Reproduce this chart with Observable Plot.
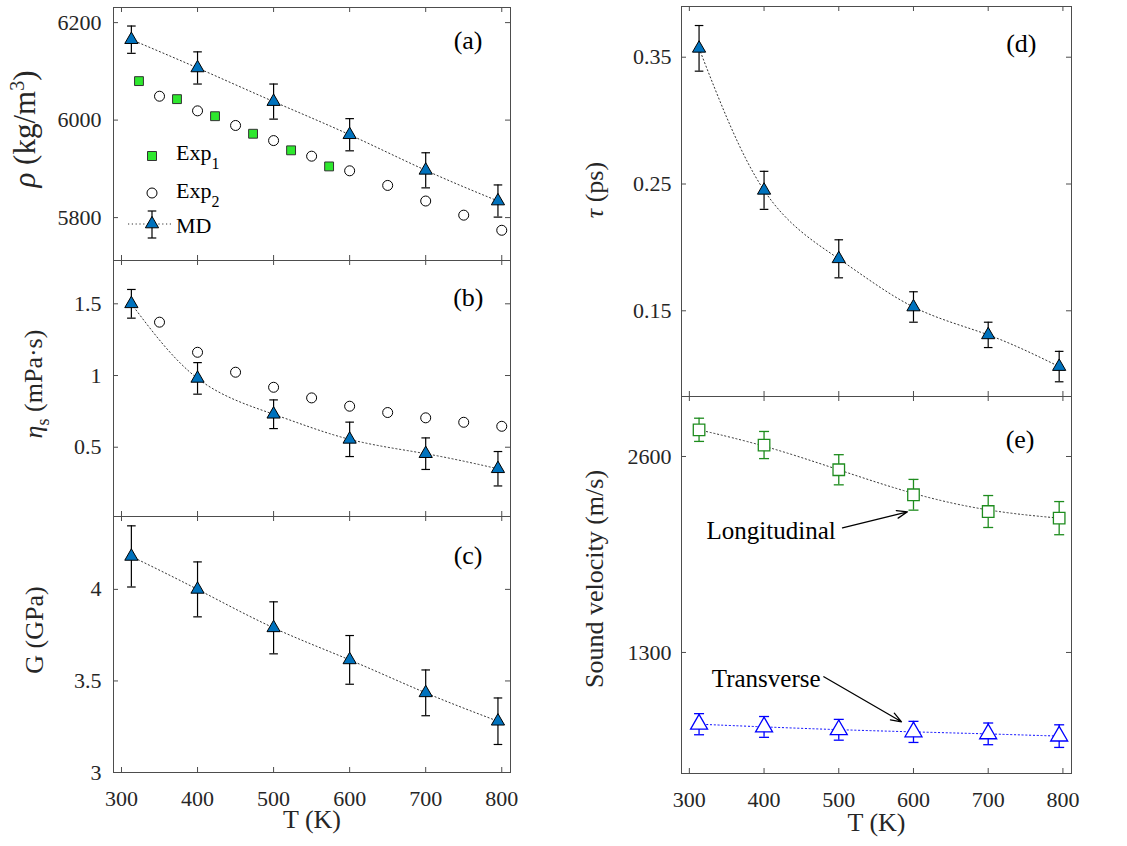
<!DOCTYPE html>
<html><head><meta charset="utf-8">
<script src="https://cdn.jsdelivr.net/npm/d3@7"></script>
<script src="https://cdn.jsdelivr.net/npm/@observablehq/plot@0.6"></script>
<style>
body{margin:0;background:#fff;}
#fig{position:relative;width:1127px;height:846px;font-family:"Liberation Serif","Times New Roman",serif;overflow:hidden;}
#fig svg{position:absolute;overflow:visible;font-family:"Liberation Serif","Times New Roman",serif;}
</style></head><body><div id="fig"></div>
<script>
// ---------------- data ----------------
const xTicks = [300, 400, 500, 600, 700, 800];
const T_md = [313, 400, 500, 600, 700, 795];
// (a) density
const rho_md = [6165, 6107, 6038, 5970, 5897, 5834];
const rho_err = [28, 33, 36, 33, 36, 33];
const T_exp1 = [323, 373, 423, 473, 523, 573];
const rho_exp1 = [6080, 6043, 6008, 5972, 5938, 5905];
const T_exp2 = [350, 400, 450, 500, 550, 600, 650, 700, 750, 800];
const rho_exp2 = [6049, 6019, 5989, 5958, 5926, 5896, 5866, 5834, 5805, 5774];
const rhoTicks = [5800, 6000, 6200];
// (b) shear viscosity
const eta_md = [1.50, 0.98, 0.73, 0.555, 0.455, 0.35];
const eta_err = [0.10, 0.11, 0.10, 0.12, 0.11, 0.12];
const eta_exp2 = [1.372, 1.162, 1.023, 0.918, 0.844, 0.786, 0.742, 0.705, 0.674, 0.646];
const etaTicks = [0.5, 1, 1.5];
// (c) shear modulus
const G_md = [4.18, 4.00, 3.79, 3.615, 3.435, 3.28];
const G_err = [0.167, 0.15, 0.142, 0.133, 0.125, 0.127];
const GTicks = [3, 3.5, 4];
// (d) relaxation time
const tau_md = [0.357, 0.245, 0.191, 0.153, 0.131, 0.106];
const tau_err = [0.018, 0.015, 0.015, 0.012, 0.010, 0.012];
const tauTicks = [0.15, 0.25, 0.35];
// (e) sound velocity
const vL = [2777, 2676, 2512, 2346, 2235, 2191];
const vL_err = [77, 90, 100, 102, 106, 110];
const vT = [824, 806, 787, 773, 760, 745];
const vT_err = [70, 69, 69, 70, 72, 75];
const vTicks = [1300, 2600];
const annotText = ["Longitudinal", "Transverse"];
const annotT = [323, 330];
const annotV = [2107, 1126];
const arrowFromT = [505, 480], arrowFromV = [2127, 1139];
const arrowToT = [592, 584], arrowToV = [2233, 840];

// ---------------- helpers ----------------
const fig = document.getElementById("fig");
const SERIF = '"Liberation Serif", "Times New Roman", serif';
const frameColor = "#4d4d4d";
const labelColor = "#262626";
const xDomain = [289.5, 811.5];
const capSym = {draw(ctx, size) { const r = Math.sqrt(size / Math.PI); ctx.moveTo(-r, 0); ctx.lineTo(r, 0); }};
const rows = (xs, ys, es) => xs.map((x, i) => ({x, y: ys[i], e: es ? es[i] : 0}));

function errMarks(data, color, capR, sw) {
  return [
    Plot.ruleX(data, {x: "x", y1: d => d.y - d.e, y2: d => d.y + d.e, stroke: color, strokeWidth: sw}),
    Plot.dot(data, {x: "x", y: d => d.y - d.e, symbol: capSym, r: capR, stroke: color, fill: "none", strokeWidth: sw}),
    Plot.dot(data, {x: "x", y: d => d.y + d.e, symbol: capSym, r: capR, stroke: color, fill: "none", strokeWidth: sw})
  ];
}
function fitLine(data, color, curve = "natural") {
  return Plot.line(data, {x: "x", y: "y", curve, stroke: color, strokeWidth: 1, strokeDasharray: "1.2 2.6"});
}
function mdMarks(data) {
  return [
    fitLine(data, "#333"),
    ...errMarks(data, "black", 4.3, 1.2),
    Plot.dot(data, {x: "x", y: "y", symbol: "triangle", r: 4.9, fill: "#0072BD", stroke: "black", strokeWidth: 1})
  ];
}

function panel(o) {
  const pw = o.width - o.ml - o.mr, ph = o.height - o.mt - o.mb, T = 5;
  const svg = Plot.plot({
    width: o.width, height: o.height,
    marginTop: o.mt, marginBottom: o.mb, marginLeft: o.ml, marginRight: o.mr,
    style: {fontFamily: SERIF, color: labelColor, background: "none", overflow: "visible"},
    x: {domain: xDomain, axis: null},
    y: {domain: o.yDomain, axis: null},
    marks: [
      ...o.marks,
      Plot.tickX(xTicks, {x: d => d, insetTop: ph - T, stroke: frameColor}),
      Plot.tickX(xTicks, {x: d => d, insetBottom: ph - T, stroke: frameColor}),
      Plot.tickY(o.yTicks, {y: d => d, insetLeft: pw - T, stroke: frameColor}),
      Plot.tickY(o.yTicks, {y: d => d, insetRight: pw - T, stroke: frameColor}),
      Plot.frame({stroke: frameColor}),
      Plot.text(o.yTicks, {y: d => d, text: d => String(d), frameAnchor: "left", dx: o.yPad, textAnchor: "end",
        lineAnchor: "middle", fontSize: 22, fontFamily: SERIF, fill: labelColor}),
      o.xAxis ? Plot.text(xTicks, {x: d => d, text: d => String(d), frameAnchor: "bottom", dy: 26, lineAnchor: "middle",
        fontSize: 22, fontFamily: SERIF, fill: labelColor}) : null,
      Plot.text([o.tag], {frameAnchor: "top-right", dx: o.tagDx, dy: o.tagDy, textAnchor: "end", fontSize: 26, fontFamily: SERIF, fill: "black"}),
      o.xAxis ? Plot.text(["T (K)"], {frameAnchor: "bottom", dy: o.xlabDy, fontSize: 26, fontFamily: SERIF, fill: labelColor}) : null
    ]
  });
  svg.style.left = o.left + "px";
  svg.style.top = o.top + "px";
  fig.appendChild(svg);
  return svg;
}

function ylabel(svg, x, y, parts, fs = 26) {
  const t = d3.select(svg).append("text")
    .attr("transform", `translate(${x},${y}) rotate(-90)`)
    .attr("text-anchor", "middle").attr("font-size", fs).attr("font-family", SERIF).attr("fill", labelColor);
  parts.forEach(p => {
    const s = t.append("tspan").text(p.t);
    if (p.i) s.attr("font-style", "italic");
    if (p.fs) s.attr("font-size", p.fs);
    if (p.dy) s.attr("dy", p.dy);
  });
}

// ---------------- panel (a) ----------------
const svgA = panel({
  left: 0, top: 0, width: 525, height: 265, mt: 7, mb: 5, ml: 113, mr: 15, yPad: -12,
  yDomain: [5712, 6231], yTicks: rhoTicks, tag: "(a)", tagDx: -28, tagDy: 23,
  marks: [
    Plot.dot(rows(T_exp2, rho_exp2), {x: "x", y: "y", r: 5, fill: "white", stroke: "black", strokeWidth: 1}),
    Plot.dot(rows(T_exp1, rho_exp1), {x: "x", y: "y", symbol: "square", r: 5, fill: "#2ee82e", stroke: "#333", strokeWidth: 1}),
    ...mdMarks(rows(T_md, rho_md, rho_err))
  ]
});
ylabel(svgA, 35, 129, [{t: "ρ", i: true}, {t: " (kg/m"}, {t: "3", fs: 20, dy: -11}, {t: ")", dy: 11}], 31);
// legend
{
  const g = d3.select(svgA).append("g").attr("text-anchor", "start");
  g.append("path").attr("transform", "translate(152,156)").attr("d", d3.symbol(d3.symbolSquare, 81)())
    .attr("fill", "#2ee82e").attr("stroke", "#333");
  g.append("circle").attr("cx", 152).attr("cy", 193).attr("r", 5).attr("fill", "white").attr("stroke", "black");
  g.append("line").attr("x1", 128).attr("x2", 172).attr("y1", 224).attr("y2", 224)
    .attr("stroke", "#333").attr("stroke-dasharray", "1.2 2.6");
  g.append("line").attr("x1", 152).attr("x2", 152).attr("y1", 211).attr("y2", 238).attr("stroke", "black").attr("stroke-width", 1.2);
  g.append("line").attr("x1", 147.7).attr("x2", 156.3).attr("y1", 211).attr("y2", 211).attr("stroke", "black").attr("stroke-width", 1.2);
  g.append("line").attr("x1", 147.7).attr("x2", 156.3).attr("y1", 238).attr("y2", 238).attr("stroke", "black").attr("stroke-width", 1.2);
  g.append("path").attr("transform", "translate(152,224)").attr("d", d3.symbol(d3.symbolTriangle, Math.PI * 4.9 * 4.9)())
    .attr("fill", "#0072BD").attr("stroke", "black");
  const lt = [["Exp", "1", 160], ["Exp", "2", 198], ["MD", null, 233]];
  lt.forEach(([a, b, y]) => {
    const t = g.append("text").attr("x", 176).attr("y", y).attr("font-size", 22).attr("font-family", SERIF)
      .attr("fill", "black").attr("text-anchor", "start");
    t.append("tspan").text(a);
    if (b) t.append("tspan").text(b).attr("font-size", 16).attr("dy", 9);
  });
}

// ---------------- panel (b) ----------------
const svgB = panel({
  left: 0, top: 255, width: 525, height: 266, mt: 5, mb: 5, ml: 113, mr: 15, yPad: -12,
  yDomain: [0.017, 1.802], yTicks: etaTicks, tag: "(b)", tagDx: -27, tagDy: 27,
  marks: [
    Plot.dot(rows(T_exp2, eta_exp2), {x: "x", y: "y", r: 5, fill: "white", stroke: "black", strokeWidth: 1}),
    ...mdMarks(rows(T_md, eta_md, eta_err))
  ]
});
ylabel(svgB, 42, 129, [{t: "η", i: true}, {t: "s", fs: 18, dy: 7}, {t: " (mPa·s)", dy: -7}]);

// ---------------- panel (c) ----------------
const svgC = panel({
  left: 0, top: 511, width: 525, height: 335, mt: 5, mb: 74, ml: 113, mr: 15, yPad: -12,
  yDomain: [3, 4.398], yTicks: GTicks, tag: "(c)", tagDx: -28, tagDy: 29, xAxis: true, xlabDy: 55,
  marks: [...mdMarks(rows(T_md, G_md, G_err))]
});
ylabel(svgC, 43, 119, [{t: "G (GPa)"}]);

// ---------------- panel (d) ----------------
const svgD = panel({
  left: 560, top: 0, width: 525, height: 401, mt: 6, mb: 5, ml: 121, mr: 14, yPad: -10,
  yDomain: [0.0824, 0.390], yTicks: tauTicks, tag: "(d)", tagDx: -35, tagDy: 27,
  marks: [...mdMarks(rows(T_md, tau_md, tau_err))]
});
ylabel(svgD, 43, 190, [{t: "τ", i: true}, {t: " (ps)"}]);

// ---------------- panel (e) ----------------
const L = rows(T_md, vL, vL_err), Tr = rows(T_md, vT, vT_err);
const greenC = "#1e8c1e", blueC = "#0000ff";
const svgE = panel({
  left: 560, top: 391, width: 525, height: 455, mt: 5, mb: 73, ml: 121, mr: 14, yPad: -10,
  yDomain: [497, 2998], yTicks: vTicks, tag: "(e)", tagDx: -37, tagDy: 33, xAxis: true, xlabDy: 57,
  marks: [
    fitLine(L, "#333", "basis"),
    fitLine(Tr, blueC, "basis"),
    ...errMarks(L, greenC, 5, 1.3),
    ...errMarks(Tr, blueC, 5, 1.3),
    Plot.dot(L, {x: "x", y: "y", symbol: "square", r: 6.5, fill: "white", stroke: greenC, strokeWidth: 1.3}),
    Plot.dot(Tr, {x: "x", y: "y", symbol: "triangle", r: 6.3, fill: "white", stroke: blueC, strokeWidth: 1.3}),
    Plot.text(annotText, {x: annotT, y: annotV, text: d => d, textAnchor: "start", fontSize: 25, fontFamily: SERIF, fill: "black"}),
    Plot.arrow(annotText, {x1: arrowFromT, y1: arrowFromV, x2: arrowToT, y2: arrowToV, stroke: "black", strokeWidth: 1.3, headLength: 13, headAngle: 40})
  ]
});
ylabel(svgE, 43, 188, [{t: "Sound velocity (m/s)"}]);
</script></body></html>
